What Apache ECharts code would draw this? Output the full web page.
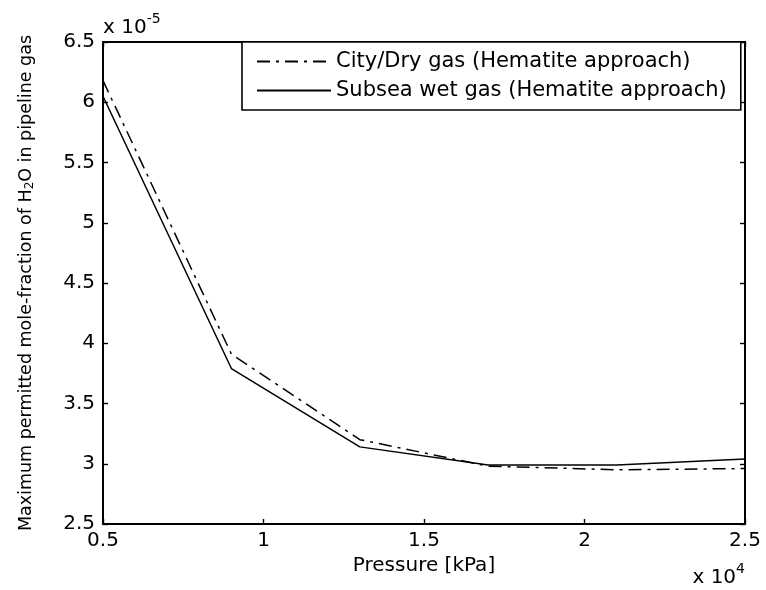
<!DOCTYPE html>
<html>
<head>
<meta charset="utf-8">
<script src="https://cdn.jsdelivr.net/npm/echarts@6/dist/echarts.min.js"></script>
<style>
html,body{margin:0;padding:0;background:#fff;}
#chart{width:766px;height:590px;}
</style>
</head>
<body>
<div id="chart"></div>
<script>
// Pressure in kPa
var pressure = [5000, 9000, 13000, 17000, 21000, 25000];
// Max permitted mole fraction of H2O, in units of 1e-5
var cityDry = [6.18, 3.91, 3.20, 2.98, 2.95, 2.96];
var subseaWet = [6.05, 3.79, 3.14, 2.99, 2.99, 3.04];
var seriesNames = ['City/Dry gas (Hematite approach)', 'Subsea wet gas (Hematite approach)'];
var xTitle = 'Pressure [kPa]';
var yTitle = 'Maximum permitted mole-fraction of H{sub|2}O in pipeline gas';

function pairs(xs, ys) { return xs.map(function (x, i) { return [x, ys[i]]; }); }

var FONT = 'DejaVu Sans';
var chart = echarts.init(document.getElementById('chart'), null, {renderer: 'canvas'});
var axisLine = {show: true, lineStyle: {color: '#000', width: 2}};
var ticks = {show: true, inside: true, length: 5, lineStyle: {color: '#000', width: 1.4}};

chart.setOption({
  animation: false,
  backgroundColor: '#fff',
  grid: {left: 103, right: 21, top: 42, bottom: 66, containLabel: false},
  xAxis: [{
    type: 'value', min: 5000, max: 25000, interval: 5000, position: 'bottom',
    axisLine: axisLine, axisTick: ticks, splitLine: {show: false},
    axisLabel: {color: '#000', fontFamily: FONT, fontSize: 20, margin: 7,
      formatter: function (v) { return String(v / 1e4); }},
    name: xTitle, nameLocation: 'middle', nameGap: 32,
    nameTextStyle: {color: '#000', fontFamily: FONT, fontSize: 20}
  }, {
    type: 'value', min: 5000, max: 25000, interval: 5000, position: 'top',
    axisLine: axisLine, axisTick: ticks, axisLabel: {show: false}, splitLine: {show: false}
  }],
  yAxis: [{
    type: 'value', min: 2.5, max: 6.5, interval: 0.5, position: 'left',
    axisLine: axisLine, axisTick: ticks, splitLine: {show: false},
    axisLabel: {color: '#000', fontFamily: FONT, fontSize: 20, margin: 8,
      formatter: function (v) { return String(Math.round(v * 10) / 10); }},
    name: yTitle, nameLocation: 'middle', nameGap: 68, nameRotate: 90,
    nameTextStyle: {color: '#000', fontFamily: FONT, fontSize: 17.5,
      rich: {sub: {fontFamily: FONT, fontSize: 12, color: '#000', padding: [0, 0, -8, 0]}}}
  }, {
    type: 'value', min: 2.5, max: 6.5, interval: 0.5, position: 'right',
    axisLine: axisLine, axisTick: ticks, axisLabel: {show: false}, splitLine: {show: false}
  }],
  legend: {
    orient: 'vertical', left: 242, top: 42,
    data: seriesNames,
    itemWidth: 74, itemHeight: 14, itemGap: 8,
    padding: [9, 14, 9, 14],
    borderColor: '#000', borderWidth: 1.6, backgroundColor: '#fff',
    itemStyle: {opacity: 0},
    textStyle: {color: '#000', fontFamily: FONT, fontSize: 21}
  },
  graphic: [{
    type: 'text', left: 103, top: 12,
    style: {
      text: '{b|x 10}{s|-5}', fill: '#000',
      rich: {
        b: {fontFamily: FONT, fontSize: 20, fill: '#000', verticalAlign: 'bottom'},
        s: {fontFamily: FONT, fontSize: 14, fill: '#000', padding: [0, 0, 12, 0], verticalAlign: 'bottom'}
      }
    }
  }, {
    type: 'text', right: 21, top: 562,
    style: {
      text: '{b|x 10}{s|4}', fill: '#000',
      rich: {
        b: {fontFamily: FONT, fontSize: 20, fill: '#000', verticalAlign: 'bottom'},
        s: {fontFamily: FONT, fontSize: 14, fill: '#000', padding: [0, 0, 12, 0], verticalAlign: 'bottom'}
      }
    }
  }],
  series: [{
    name: seriesNames[0], type: 'line', data: pairs(pressure, cityDry),
    symbol: 'none', symbolSize: 0, showSymbol: false,
    lineStyle: {color: '#000', width: 1.5, type: [13, 6, 3, 6]},
    itemStyle: {color: '#000'}
  }, {
    name: seriesNames[1], type: 'line', data: pairs(pressure, subseaWet),
    symbol: 'none', symbolSize: 0, showSymbol: false,
    lineStyle: {color: '#000', width: 1.5, type: 'solid'},
    itemStyle: {color: '#000'}
  }]
});
</script>
</body>
</html>
